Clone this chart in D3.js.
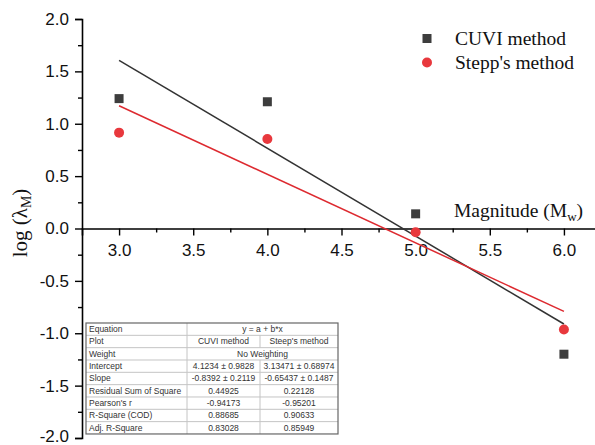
<!DOCTYPE html>
<html><head><meta charset="utf-8">
<script src="https://cdn.jsdelivr.net/npm/d3@7"></script>
<style>html,body{margin:0;padding:0;background:#fff;overflow:hidden}</style>
</head><body>
<svg id="chart" width="595" height="445"></svg>
<script>
// ---- data ----
const magnitudes = [3.0, 4.0, 5.0, 6.0];
const cuviValues = [1.24, 1.21, 0.14, -1.20];
const steppValues = [0.915, 0.855, -0.035, -0.965];
const cuviFit = {a: 4.1234, b: -0.8392};
const steppFit = {a: 3.13471, b: -0.65437};
const seriesNames = ["CUVI method", "Stepp's method"];
const xTicks = [3.0, 3.5, 4.0, 4.5, 5.0, 5.5, 6.0];
const xMinorTicks = [3.25, 3.75, 4.25, 4.75, 5.25, 5.75];
const yTicks = [-2.0, -1.5, -1.0, -0.5, 0.0, 0.5, 1.0, 1.5, 2.0];
const yMinorTicks = [-1.75, -1.25, -0.75, -0.25, 0.25, 0.75, 1.25, 1.75];
const tableLabels = ["Equation", "Plot", "Weight", "Intercept", "Slope",
  "Residual Sum of Square", "Pearson's r", "R-Square (COD)", "Adj. R-Square"];
const tableCuvi = [null, "CUVI method", null, "4.1234 \u00b1 0.9828", "-0.8392 \u00b1 0.2119",
  "0.44925", "-0.94173", "0.88685", "0.83028"];
const tableStepp = [null, "Steep's method", null, "3.13471 \u00b1 0.68974", "-0.65437 \u00b1 0.1487",
  "0.22128", "-0.95201", "0.90633", "0.85949"];
const tableMerged = ["y = a + b*x", null, "No Weighting", null, null, null, null, null, null];

// ---- layout ----
const svg = d3.select("#chart");
const x = d3.scaleLinear().domain([2.75, 6.25]).range([82, 601]);
const y = d3.scaleLinear().domain([-2, 2]).range([438, 19]);
const sans = "'Liberation Sans', Arial, sans-serif";
const serif = "'Liberation Serif', 'Times New Roman', serif";
const dark = "#3d3d3d", red = "#e8383d";

// Y axis
const yAxis = svg.append("g").attr("transform", `translate(${x(2.75)},0)`)
  .call(d3.axisLeft(y).tickValues(yTicks).tickSize(7).tickPadding(6).tickFormat(d => d.toFixed(1)));
yAxis.select(".domain").attr("stroke", "#000").attr("stroke-width", 1.6);
yAxis.selectAll(".tick line").attr("stroke-width", 1.4);
yAxis.selectAll(".tick text").attr("font-family", sans).attr("font-size", 17).attr("fill", "#111")
  .attr("dy", d => d === -2 ? "0.22em" : "0.32em");
svg.append("g").attr("transform", `translate(${x(2.75)},0)`)
  .call(d3.axisLeft(y).tickValues(yMinorTicks).tickSize(4).tickFormat(""))
  .call(g => g.select(".domain").remove())
  .selectAll(".tick line").attr("stroke-width", 1.4);

// X axis at y=0
const xAxis = svg.append("g").attr("transform", `translate(0,${y(0)})`)
  .call(d3.axisBottom(x).tickValues(xTicks).tickSize(7).tickPadding(8).tickFormat(d => d.toFixed(1)));
xAxis.select(".domain").attr("stroke", "#000").attr("stroke-width", 1.6);
xAxis.selectAll(".tick line").attr("stroke-width", 1.4);
xAxis.selectAll(".tick text").attr("font-family", sans).attr("font-size", 17).attr("fill", "#111");
svg.append("g").attr("transform", `translate(0,${y(0)})`)
  .call(d3.axisBottom(x).tickValues(xMinorTicks).tickSize(4).tickFormat(""))
  .call(g => g.select(".domain").remove())
  .selectAll(".tick line").attr("stroke-width", 1.4);

// Axis titles
const ylab = svg.append("text").attr("transform", "translate(27,223) rotate(-90)")
  .attr("text-anchor", "middle").attr("font-family", serif).attr("font-size", 21).attr("fill", "#111");
ylab.append("tspan").text("log (\u03bb");
ylab.append("tspan").attr("font-size", 14).attr("dy", 4).text("M");
ylab.append("tspan").attr("dy", -4).text(")");

const xlab = svg.append("text").attr("x", 454).attr("y", 217)
  .attr("font-family", serif).attr("font-size", 19.5).attr("fill", "#111");
xlab.append("tspan").text("Magnitude (M");
xlab.append("tspan").attr("font-size", 13).attr("dy", 4).text("w");
xlab.append("tspan").attr("dy", -4).text(")");

// Fit lines
const line = d3.line().x(d => x(d[0])).y(d => y(d[1]));
const fitPts = f => [3, 6].map(m => [m, f.a + f.b * m]);
svg.append("path").attr("d", line(fitPts(cuviFit))).attr("fill", "none").attr("stroke", "#333").attr("stroke-width", 1.5);
svg.append("path").attr("d", line(fitPts(steppFit))).attr("fill", "none").attr("stroke", "#dd2a30").attr("stroke-width", 1.5);

// Points
const cuviData = magnitudes.map((m, i) => [m, cuviValues[i]]);
const steppData = magnitudes.map((m, i) => [m, steppValues[i]]);
svg.append("g").selectAll("rect").data(cuviData).join("rect")
  .attr("x", d => x(d[0]) - 4.5).attr("y", d => y(d[1]) - 4.5)
  .attr("width", 9).attr("height", 9).attr("fill", dark);
svg.append("g").selectAll("circle").data(steppData).join("circle")
  .attr("cx", d => x(d[0])).attr("cy", d => y(d[1])).attr("r", 5).attr("fill", red);

// Legend
const leg = svg.append("g");
leg.append("rect").attr("x", 422.5).attr("y", 34).attr("width", 9).attr("height", 9).attr("fill", dark);
leg.append("circle").attr("cx", 427).attr("cy", 62.5).attr("r", 5).attr("fill", red);
leg.append("text").attr("x", 455).attr("y", 45).attr("font-family", serif).attr("font-size", 19.5).attr("fill", "#111").text(seriesNames[0]);
leg.append("text").attr("x", 455).attr("y", 69).attr("font-family", serif).attr("font-size", 19.5).attr("fill", "#111").text(seriesNames[1]);

// Stats table
const tx0 = 86, tx1 = 187, tx2 = 260, tx3 = 338, ty0 = 323, rowH = 12.33;
const tbl = svg.append("g");
tbl.append("rect").attr("x", tx0).attr("y", ty0).attr("width", tx3 - tx0).attr("height", rowH * 9)
  .attr("fill", "#fff").attr("stroke", "none");
const grid = "#c4c4c4";
tableLabels.forEach((lab, i) => {
  const yy = ty0 + i * rowH;
  if (i > 0) tbl.append("line").attr("x1", tx0).attr("x2", tx3).attr("y1", yy).attr("y2", yy).attr("stroke", grid).attr("stroke-width", 1);
  tbl.append("line").attr("x1", tx1).attr("x2", tx1).attr("y1", yy).attr("y2", yy + rowH).attr("stroke", grid);
  const ty = yy + rowH / 2 + 3;
  tbl.append("text").attr("x", tx0 + 3).attr("y", ty).attr("font-family", sans).attr("font-size", 8.5).attr("fill", "#333").text(lab);
  if (tableMerged[i] !== null) {
    tbl.append("text").attr("x", (tx1 + tx3) / 2).attr("y", ty).attr("text-anchor", "middle")
      .attr("font-family", sans).attr("font-size", 8.5).attr("fill", "#333").text(tableMerged[i]);
  } else {
    tbl.append("line").attr("x1", tx2).attr("x2", tx2).attr("y1", yy).attr("y2", yy + rowH).attr("stroke", grid);
    tbl.append("text").attr("x", (tx1 + tx2) / 2).attr("y", ty).attr("text-anchor", "middle")
      .attr("font-family", sans).attr("font-size", 8.5).attr("fill", "#333").text(tableCuvi[i]);
    tbl.append("text").attr("x", (tx2 + tx3) / 2).attr("y", ty).attr("text-anchor", "middle")
      .attr("font-family", sans).attr("font-size", 8.5).attr("fill", "#333").text(tableStepp[i]);
  }
});
tbl.append("rect").attr("x", tx0).attr("y", ty0).attr("width", tx3 - tx0).attr("height", rowH * 9)
  .attr("fill", "none").attr("stroke", "#666").attr("stroke-width", 1.2);
</script>
</body></html>
